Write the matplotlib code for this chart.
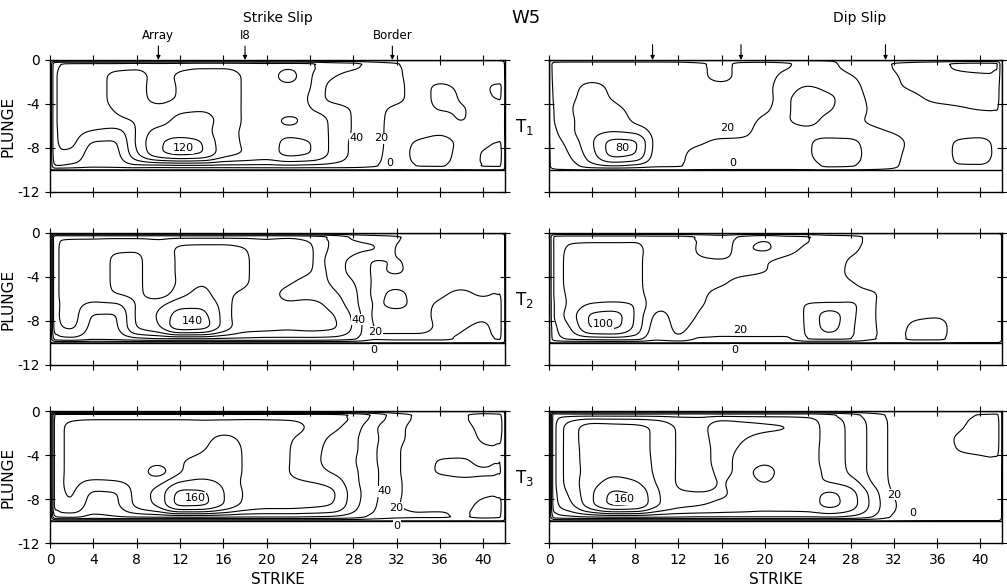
import numpy as np
import matplotlib
matplotlib.use('Agg')
import matplotlib.pyplot as plt
from matplotlib.patches import Rectangle

plt.rcParams['font.family'] = ['DejaVu Sans']

# fault plane (km) and the grid the slip was read on
fault_length = 42
fault_width = 10
strike = [0.5, 2, 4, 6, 8, 10, 12, 14, 16, 18, 20, 22, 24, 26, 28, 30, 32, 34, 36, 38, 40, 41.5]
plunge = [-0.4, -1.5, -2.5, -3.5, -4.5, -5.5, -6.5, -7.5, -8.5, -9.6]
levels = [-40, -20, 1, 20, 40, 60, 80, 100, 120, 140, 160]

# slip (cm), one row per plunge value
ss_t1 = [
    [58, 64, 65, 66, 68, 66, 68, 70, 70, 68, 66, 68, 64, 52, 46, 32, 22, 12, 9, 9, 9, 8],
    [62, 68, 72, 84, 86, 74, 83, 88, 88, 78, 72, 88, 62, 42, 32, 28, 23, 13, 12, 12, 14, 12],
    [62, 68, 72, 84, 86, 72, 82, 88, 88, 78, 72, 74, 61, 34, 30, 28, 24, 14, 24, 18, 18, 24],
    [62, 68, 72, 84, 86, 74, 82, 88, 88, 78, 72, 70, 58, 34, 30, 28, 24, 14, 24, 19, 16, 22],
    [62, 68, 72, 81, 86, 86, 96, 98, 90, 78, 72, 70, 61, 52, 38, 26, 16, 13, 21, 21, 14, 12],
    [62, 68, 72, 76, 82, 90, 106, 108, 92, 78, 72, 54, 66, 58, 38, 26, 14, 12, 14, 21, 12, 10],
    [62, 66, 58, 52, 82, 108, 112, 110, 86, 78, 72, 70, 68, 58, 38, 26, 14, 14, 17, 13, 12, 10],
    [62, 64, 38, 38, 84, 117, 126, 121, 88, 78, 70, 86, 81, 56, 36, 25, 15, 22, 26, 17, 16, 22],
    [58, 56, 30, 34, 78, 117, 128, 122, 90, 79, 72, 86, 81, 56, 36, 24, 15, 24, 27, 15, 21, 25],
    [41, 36, 26, 28, 36, 36, 38, 38, 36, 36, 36, 38, 36, 34, 30, 22, 12, 21, 22, 12, 21, 22],
]
ds_t1 = [
    [30, 34, 34, 34, 34, 34, 32, 24, 14, 28, 30, 24, 8, 4, -4, -8, -22, -30, -36, -44, -46, -44],
    [28, 32, 34, 34, 34, 34, 32, 24, 14, 26, 26, 14, 10, 8, 2, -6, -18, -26, -30, -35, -37, -38],
    [26, 34, 46, 36, 34, 32, 30, 28, 26, 28, 24, 14, 22, 14, 6, -5, -17, -23, -26, -28, -30, -30],
    [24, 36, 48, 38, 32, 30, 28, 28, 26, 26, 22, 18, 30, 24, 8, -2, -8, -17, -24, -26, -28, -28],
    [22, 38, 54, 46, 34, 30, 28, 28, 26, 26, 21, 18, 30, 22, 8, -1, -8, -12, -14, -17, -21, -22],
    [21, 36, 52, 52, 36, 30, 28, 27, 26, 25, 18, 19, 26, 12, 4, -1, -6, -9, -10, -10, -10, -10],
    [16, 36, 54, 58, 54, 32, 28, 26, 26, 24, 14, 14, 16, 12, 8, 4, 0, -4, -6, -10, -12, -8],
    [10, 28, 58, 88, 84, 32, 26, 22, 16, 16, 12, 10, 18, 26, 26, 8, 4, -2, -6, -24, -26, -14],
    [6, 22, 54, 88, 82, 30, 24, 14, 12, 12, 10, 10, 18, 28, 28, 10, 3, -2, -6, -25, -27, -15],
    [4, 12, 34, 42, 36, 24, 22, 10, 8, 8, 8, 8, 12, 24, 22, 8, 2, -2, -4, -19, -19, -10],
]
ss_t2 = [
    [78, 78, 78, 78, 78, 78, 78, 78, 78, 78, 78, 78, 72, 58, 38, 30, 22, 16, 14, 14, 14, 12],
    [78, 90, 92, 98, 98, 88, 104, 106, 106, 101, 90, 101, 84, 56, 44, 42, 18, 14, 12, 12, 14, 12],
    [78, 90, 92, 102, 104, 86, 104, 108, 108, 102, 92, 88, 84, 48, 36, 18, 21, 14, 12, 12, 14, 12],
    [78, 90, 92, 102, 104, 86, 104, 108, 108, 102, 92, 88, 82, 52, 34, 18, 22, 14, 12, 12, 12, 12],
    [78, 90, 92, 102, 104, 86, 104, 118, 108, 102, 90, 82, 72, 58, 41, 17, 14, 12, 16, 16, 16, 18],
    [78, 90, 90, 101, 104, 88, 112, 126, 106, 96, 86, 76, 72, 64, 46, 16, 24, 14, 18, 22, 18, 21],
    [78, 86, 76, 76, 102, 114, 134, 136, 112, 86, 84, 82, 86, 74, 48, 18, 24, 16, 22, 24, 24, 24],
    [78, 88, 58, 58, 104, 122, 148, 146, 114, 84, 84, 84, 86, 82, 56, 16, 14, 14, 24, 24, 22, 24],
    [74, 84, 54, 56, 102, 118, 156, 152, 114, 88, 86, 84, 86, 84, 58, 18, 14, 14, 22, 21, 18, 24],
    [50, 56, 44, 46, 56, 61, 62, 62, 59, 58, 56, 56, 56, 54, 44, 22, 24, 24, 24, 18, 16, 22],
]
ds_t2 = [
    [44, 50, 50, 50, 50, 46, 46, 39, 30, 46, 56, 46, 42, 30, 26, 16, 12, 10, 10, 10, 10, 10],
    [44, 64, 66, 66, 66, 48, 46, 38, 28, 56, 64, 48, 36, 30, 24, 14, 12, 10, 10, 10, 10, 10],
    [44, 66, 68, 68, 66, 46, 44, 42, 42, 44, 41, 34, 30, 28, 18, 12, 10, 10, 10, 10, 10, 10],
    [44, 66, 68, 68, 66, 46, 44, 44, 44, 44, 41, 32, 28, 26, 17, 10, 10, 10, 10, 10, 10, 10],
    [44, 66, 68, 68, 66, 46, 44, 44, 42, 34, 30, 28, 26, 24, 21, 12, 10, 10, 10, 10, 10, 10],
    [44, 64, 68, 70, 68, 46, 44, 42, 36, 32, 30, 28, 26, 26, 26, 22, 12, 10, 10, 10, 10, 10],
    [42, 64, 82, 84, 79, 44, 42, 41, 34, 30, 28, 28, 42, 44, 44, 22, 12, 10, 10, 10, 10, 10],
    [42, 70, 104, 108, 78, 36, 44, 39, 30, 26, 26, 28, 44, 70, 46, 22, 12, 16, 18, 12, 10, 10],
    [36, 61, 104, 106, 76, 30, 44, 34, 26, 26, 26, 26, 44, 68, 44, 22, 14, 24, 26, 12, 10, 10],
    [30, 44, 50, 52, 48, 26, 36, 18, 18, 18, 18, 18, 41, 44, 41, 22, 16, 24, 24, 12, 10, 10],
]
ss_t3 = [
    [88, 90, 90, 90, 90, 90, 90, 90, 90, 90, 90, 90, 90, 88, 79, 56, 30, 18, 14, 18, 26, 24],
    [90, 104, 108, 108, 108, 108, 108, 108, 110, 110, 108, 106, 98, 86, 70, 42, 24, 16, 14, 16, 24, 28],
    [90, 104, 108, 108, 108, 108, 108, 114, 124, 116, 108, 102, 92, 76, 64, 44, 24, 16, 14, 14, 22, 24],
    [90, 104, 108, 108, 108, 108, 110, 118, 128, 118, 108, 101, 88, 74, 64, 42, 22, 14, 14, 14, 18, 19],
    [90, 104, 108, 108, 108, 106, 118, 126, 130, 118, 108, 101, 86, 74, 62, 42, 22, 14, 21, 22, 16, 21],
    [90, 104, 108, 108, 108, 91, 118, 130, 130, 118, 108, 100.5, 88, 78, 64, 44, 22, 14, 22, 24, 22, 22],
    [90, 104, 96, 98, 106, 114, 142, 146, 136, 116, 108, 104, 101, 94, 66, 44, 22, 16, 14, 16, 17, 16],
    [90, 102, 76, 78, 108, 128, 166, 164, 141, 118, 108, 108, 108, 104, 70, 44, 22, 16, 14, 14, 18, 19],
    [90, 98, 70, 76, 106, 126, 168, 166, 141, 116, 108, 108, 106, 101, 68, 42, 21, 16, 16, 16, 23, 24],
    [62, 66, 56, 60, 64, 66, 68, 68, 66, 64, 64, 64, 62, 59, 50, 34, 24, 22, 22, 19, 24, 22],
]
ds_t3 = [
    [74, 76, 76, 76, 76, 76, 76, 76, 76, 76, 76, 76, 76, 66, 50, 30, 16, 12, 12, 14, 22, 24],
    [78, 110, 130, 128, 126, 116, 98, 94, 114, 108, 104, 101, 92, 70, 56, 34, 16, 12, 12, 18, 26, 28],
    [78, 110, 130, 128, 126, 116, 98, 92, 112, 101, 94, 92, 90, 70, 56, 34, 16, 12, 14, 22, 26, 28],
    [78, 110, 128, 128, 126, 116, 98, 92, 108, 96, 92, 90, 88, 70, 56, 34, 16, 12, 12, 21, 24, 26],
    [78, 110, 128, 130, 128, 116, 98, 92, 108, 92, 96, 90, 88, 70, 56, 34, 16, 12, 12, 14, 16, 18],
    [78, 110, 128, 136, 132, 116, 98, 92, 104, 96, 106, 92, 88, 74, 56, 34, 16, 12, 12, 12, 12, 12],
    [78, 110, 132, 146, 142, 118, 98, 94, 101, 94, 100.5, 90, 84, 79, 70, 38, 16, 12, 12, 12, 12, 12],
    [76, 104, 138, 164, 158, 124, 102, 101, 101, 96, 92, 90, 92, 104, 88, 52, 18, 14, 12, 12, 12, 12],
    [74, 96, 138, 166, 162, 124, 106, 102, 98, 94, 90, 90, 92, 106, 90, 54, 21, 14, 12, 12, 12, 12],
    [50, 58, 64, 68, 68, 66, 64, 62, 62, 62, 62, 62, 62, 64, 58, 41, 18, 12, 10, 10, 10, 10],
]

panels = [ss_t1, ds_t1, ss_t2, ds_t2, ss_t3, ds_t3]
# contour labels: (level, strike, plunge)
line_labels = [
    [(40, 28.3, -7.1), (20, 30.6, -7.1)],
    [(20, 16.5, -6.2)],
    [(40, 28.5, -7.9), (20, 30.0, -9.0)],
    [(20, 17.7, -8.8)],
    [(40, 30.9, -7.3), (20, 32.0, -8.8)],
    [(20, 32.0, -7.6)],
]
peak_labels = [(120, 12.3, -8.0), (80, 6.8, -8.0), (140, 13.1, -8.0),
               (100, 5.0, -8.3), (160, 13.4, -7.9), (160, 7.0, -8.0)]
zero_labels = [(31.4, -9.4), (17.0, -9.4), (29.9, -10.6), (17.2, -10.6), (32.0, -10.45), (33.7, -9.3)]

arrow_names = ['Array', 'I8', 'Border']
arrow_left = [10, 18, 31.6]
arrow_right = [9.6, 17.8, 31.2]
time_names = [r'$\mathrm{T_1}$', r'$\mathrm{T_2}$', r'$\mathrm{T_3}$']

# grid incl. the fault edge, where slip is zero
xs = np.array([0] + strike + [fault_length], dtype=float)
ds = -np.array([0] + plunge + [-fault_width], dtype=float)   # depth, ascending


def pchip(x, y, xn):
    # monotone cubic along axis 0 (keeps contours from overshooting)
    h = np.diff(x)[:, None]
    delta = np.diff(y, axis=0) / h
    slope = np.zeros_like(y)
    slope[0], slope[-1] = delta[0], delta[-1]
    w1 = 2 * h[1:] + h[:-1]
    w2 = h[1:] + 2 * h[:-1]
    with np.errstate(divide='ignore', invalid='ignore'):
        hm = (w1 + w2) / (w1 / delta[:-1] + w2 / delta[1:])
    slope[1:-1] = np.where(delta[:-1] * delta[1:] > 0, hm, 0.0)
    k = np.clip(np.searchsorted(x, xn, side='right') - 1, 0, len(x) - 2)
    hk = (x[k + 1] - x[k])[:, None]
    t = ((xn - x[k]) / (x[k + 1] - x[k]))[:, None]
    return ((2 * t**3 - 3 * t**2 + 1) * y[k] + (t**3 - 2 * t**2 + t) * hk * slope[k]
            + (-2 * t**3 + 3 * t**2) * y[k + 1] + (t**3 - t**2) * hk * slope[k + 1])


def soften(Zf, hx=4, hy=6):
    # round off box corners away from the fault edge
    kx = np.ones(2 * hx + 1) / (2 * hx + 1)
    ky = np.ones(2 * hy + 1) / (2 * hy + 1)
    out = Zf
    for _ in range(2):
        P = np.pad(out, ((hy, hy), (hx, hx)), mode='edge')
        P = np.apply_along_axis(lambda r: np.convolve(r, kx, mode='valid'), 1, P)
        out = np.apply_along_axis(lambda c: np.convolve(c, ky, mode='valid'), 0, P)
    return out


xf = np.linspace(0, fault_length, 421)
df = np.linspace(0, fault_width, 201)
XF, DF = np.meshgrid(xf, df)
edge_dist = np.minimum.reduce([XF, fault_length - XF, DF, fault_width - DF])
wgt = np.clip((edge_dist - 0.3) / 0.9, 0, 1)

box = dict(boxstyle='square,pad=0.05', fc='white', ec='none')

fig = plt.figure(figsize=(10.07, 5.88), dpi=100)
lefts = [0.0497, 0.5452]
widths = [0.4518, 0.4498]
bottoms = [0.6735, 0.3793, 0.0765]
h = 0.2245

for k, data in enumerate(panels):
    row, col = divmod(k, 2)
    ax = fig.add_axes([lefts[col], bottoms[row], widths[col], h])
    Z = np.pad(np.array(data, dtype=float), 1)
    Zf = pchip(ds, pchip(xs, Z.T, xf).T, df)
    Zf = wgt * soften(Zf) + (1 - wgt) * Zf
    ax.contour(xf, -df, Zf, levels=levels, colors='k', linewidths=0.8,
               linestyles='solid')
    ax.add_patch(Rectangle((0, -fault_width), fault_length, fault_width,
                           fill=False, lw=1.0, ec='k'))
    for lev, sx, sy in line_labels[k]:
        ax.text(sx, sy, str(lev), fontsize=8, ha='center', va='center', bbox=box, zorder=5)
    pv, px, py = peak_labels[k]
    ax.text(px, py, str(pv), fontsize=8, ha='center', va='center', bbox=box, zorder=5)
    ax.text(zero_labels[k][0], zero_labels[k][1], '0', fontsize=8,
            ha='center', va='center', bbox=box, zorder=5)

    ax.set_xlim(0, fault_length)
    ax.set_ylim(-12, 0)
    ax.set_xticks(range(0, 41, 4))
    ax.set_yticks([0, -4, -8, -12])
    ax.set_yticklabels(['0', '-4', '-8', '-12'])
    ax.tick_params(direction='inout', length=7, width=0.8, top=True, right=True,
                   labelsize=10, labelleft=(col == 0), labelbottom=(row == 2))
    for sp in ax.spines.values():
        sp.set_linewidth(1.0)
    if col == 0:
        ax.set_ylabel('PLUNGE', fontsize=11, labelpad=2)
    if row == 2:
        ax.set_xlabel('STRIKE', fontsize=11)

    if row == 0:
        if col == 0:
            for s, name in zip(arrow_left, arrow_names):
                ax.annotate(name, xy=(s, 0), xytext=(0, 13), textcoords='offset points',
                            ha='center', va='bottom', fontsize=8.5, annotation_clip=False,
                            arrowprops=dict(arrowstyle='-|>', color='k', lw=0.8,
                                            shrinkA=1, shrinkB=0, mutation_scale=6))
        else:
            for s in arrow_right:
                ax.annotate('', xy=(s, 0), xytext=(0, 11), textcoords='offset points',
                            annotation_clip=False,
                            arrowprops=dict(arrowstyle='-|>', color='k', lw=0.8,
                                            shrinkA=0, shrinkB=0, mutation_scale=6))

for r, name in enumerate(time_names):
    fig.text(0.521, [0.784, 0.490, 0.187][r], name, fontsize=12, ha='center', va='center')

fig.text(0.276, 0.969, 'Strike Slip', fontsize=10, ha='center', va='center')
fig.text(0.522, 0.969, 'W5', fontsize=13, ha='center', va='center')
fig.text(0.854, 0.969, 'Dip Slip', fontsize=10, ha='center', va='center')

fig.savefig('out.png', dpi=100)
